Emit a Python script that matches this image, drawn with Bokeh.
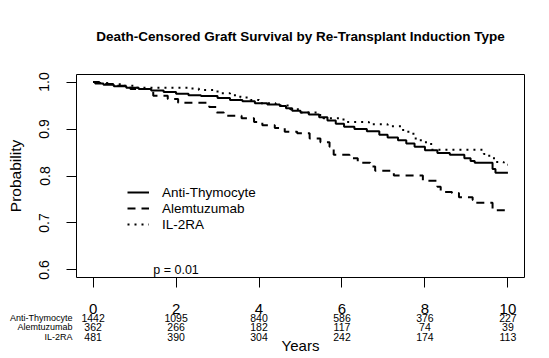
from bokeh.plotting import figure
from bokeh.models import Range1d, FixedTicker, Legend, LegendItem
from bokeh.layouts import column
from bokeh.embed import file_html
from bokeh.resources import INLINE
from bokeh.core.properties import value

# ---------------- data ----------------
title_text = "Death-Censored Graft Survival by Re-Transplant Induction Type"
groups = ["Anti-Thymocyte", "Alemtuzumab", "IL-2RA"]

atg_t = [0, 0.05, 0.25, 0.5, 0.8, 1.1, 1.4, 1.7, 2.0, 2.3, 2.6, 3.0, 3.3, 3.6, 3.9,
         4.2, 4.5, 4.65, 4.8, 5.0, 5.2, 5.45, 5.65, 5.85, 6.05, 6.3, 6.6, 6.9, 7.1,
         7.35, 7.55, 7.75, 8.0, 8.3, 8.6, 8.95, 9.1, 9.2, 9.63, 9.7]
atg_s = [1.0, 0.997, 0.994, 0.991, 0.988, 0.985, 0.982, 0.979, 0.975, 0.972, 0.970,
         0.966, 0.962, 0.959, 0.955, 0.952, 0.949, 0.944, 0.939, 0.935, 0.931, 0.925,
         0.918, 0.911, 0.905, 0.900, 0.895, 0.888, 0.882, 0.876, 0.869, 0.862, 0.855,
         0.849, 0.845, 0.838, 0.832, 0.828, 0.815, 0.807]

alem_t = [0, 0.15, 0.5, 0.9, 1.45, 1.8, 2.05, 2.8, 2.98, 3.15, 3.58, 3.88, 4.08, 4.38,
          4.62, 4.92, 5.22, 5.48, 5.7, 5.8, 6.18, 6.38, 6.68, 6.8, 7.25, 7.95, 8.3,
          8.38, 8.65, 8.82, 9.15, 9.2, 9.63]
alem_s = [1.0, 0.996, 0.992, 0.985, 0.971, 0.964, 0.956, 0.947, 0.935, 0.928, 0.923,
          0.915, 0.908, 0.902, 0.894, 0.891, 0.880, 0.872, 0.862, 0.845, 0.838, 0.828,
          0.820, 0.811, 0.801, 0.790, 0.777, 0.766, 0.764, 0.755, 0.749, 0.743, 0.727]

il2_t = [0, 0.1, 0.35, 0.7, 1.0, 2.3, 2.55, 3.0, 3.3, 3.55, 3.8, 4.0, 4.4, 4.75, 5.0,
         5.4, 5.55, 6.0, 6.1, 6.65, 7.1, 7.45, 7.6, 7.75, 7.9, 8.15, 9.42, 9.55, 9.7, 9.9]
il2_s = [1.0, 0.998, 0.995, 0.992, 0.988, 0.986, 0.983, 0.976, 0.972, 0.967, 0.962,
         0.955, 0.950, 0.942, 0.935, 0.930, 0.923, 0.920, 0.915, 0.910, 0.906, 0.898,
         0.890, 0.880, 0.872, 0.856, 0.847, 0.838, 0.830, 0.824]

followup_end = 10.0

tick_years = [0, 2, 4, 6, 8, 10]
y_ticks = [0.6, 0.7, 0.8, 0.9, 1.0]
y_tick_labels = ["0.6", "0.7", "0.8", "0.9", "1.0"]

risk_atg = [1442, 1095, 840, 586, 376, 227]
risk_alem = [362, 266, 182, 117, 74, 39]
risk_il2 = [481, 390, 304, 242, 174, 113]

p_value_text = "p = 0.01"
p_value_x = 2
p_value_y = 0.6
x_label = "Years"
x_label_pos = 5
y_label = "Probability"

# ---------------- layout / style ----------------
FONT = "Liberation Sans"
W = 541
H0 = 50          # title strip
H1 = 240         # survival plot
H2 = 66          # risk table
ML = 76
FRAME_W, FRAME_H = 448, 203
MR = W - ML - FRAME_W
MT = 24
MB = H1 - MT - FRAME_H
x0, x1 = -0.4, 10.4
y0, y1 = 0.584, 1.016

# ---------------- title strip ----------------
t = figure(width=W, height=H0, output_backend="svg", toolbar_location=None,
           x_range=Range1d(x0, x1), y_range=Range1d(H0, 0),
           x_axis_location=None, y_axis_location=None,
           min_border_left=ML, min_border_right=MR, min_border_top=0,
           min_border_bottom=0)
t.outline_line_color = None
t.grid.visible = False
t.background_fill_color = "white"
t.border_fill_color = "white"
t.text(x=[(x0 + x1) / 2], y=[36], text=[title_text], text_align="center",
       text_baseline="middle", text_font=value(FONT), text_font_size="13.5px",
       text_font_style="bold", text_color="black")

# ---------------- survival plot ----------------
p = figure(width=W, height=H1, output_backend="svg", toolbar_location=None,
           x_range=t.x_range, y_range=Range1d(y0, y1),
           min_border_left=ML, min_border_right=MR, min_border_top=MT,
           min_border_bottom=MB)
p.grid.visible = False
p.outline_line_color = "black"
p.outline_line_width = 1
p.outline_line_alpha = 1
p.background_fill_color = "white"
p.border_fill_color = "white"

# x axis: tick marks only (the year labels sit on top of the risk table)
p.xaxis.ticker = FixedTicker(ticks=tick_years)
p.xaxis.axis_line_color = None
p.xaxis.major_tick_out = 10
p.xaxis.major_tick_in = 0
p.xaxis.minor_tick_out = 0
p.xaxis.minor_tick_in = 0
p.xaxis.major_tick_line_color = "black"
p.xaxis.major_label_text_font_size = "1px"
p.xaxis.major_label_text_color = None
p.xaxis.major_label_standoff = 0

# y axis
p.yaxis.ticker = FixedTicker(ticks=y_ticks)
p.yaxis.major_label_overrides = {tk: l for tk, l in zip(y_ticks, y_tick_labels)}
p.yaxis.axis_line_color = None
p.yaxis.major_tick_out = 10
p.yaxis.major_tick_in = 0
p.yaxis.minor_tick_out = 0
p.yaxis.minor_tick_in = 0
p.yaxis.major_tick_line_color = "black"
p.yaxis.major_label_orientation = "vertical"
p.yaxis.major_label_text_font = FONT
p.yaxis.major_label_text_font_size = "14px"
p.yaxis.major_label_text_color = "black"
p.yaxis.major_label_standoff = 17
p.yaxis.axis_label = y_label
p.yaxis.axis_label_text_font = FONT
p.yaxis.axis_label_text_font_size = "15.5px"
p.yaxis.axis_label_text_font_style = "normal"
p.yaxis.axis_label_text_color = "black"
p.yaxis.axis_label_standoff = 13

r1 = p.step(atg_t + [followup_end], atg_s + [atg_s[-1]], mode="after",
            line_color="black", line_width=2)
r2 = p.step(alem_t + [followup_end], alem_s + [alem_s[-1]], mode="after",
            line_color="black", line_width=2, line_dash="8 6")
r3 = p.step(il2_t + [followup_end], il2_s + [il2_s[-1]], mode="after",
            line_color="black", line_width=2, line_dash="2 5")

legend = Legend(items=[LegendItem(label=groups[0], renderers=[r1]),
                       LegendItem(label=groups[1], renderers=[r2]),
                       LegendItem(label=groups[2], renderers=[r3])],
                location=(51, 45), padding=0, margin=0, spacing=0,
                glyph_width=22, glyph_height=16, label_height=16,
                label_standoff=13, border_line_color=None,
                background_fill_alpha=0, label_text_font=FONT,
                label_text_font_size="13.5px", label_text_color="black")
p.add_layout(legend)

p.text(x=[p_value_x], y=[p_value_y], text=[p_value_text], text_align="center",
       text_baseline="middle", text_font=value(FONT), text_font_size="12.5px",
       text_color="black")

# ---------------- risk table (shares the x range) ----------------
row_ids = [1, 2, 3]
years_row = 3.84
t_top = 23

q = figure(width=W, height=H2, output_backend="svg", toolbar_location=None,
           x_range=t.x_range, y_range=Range1d(5.0, 0.58),
           x_axis_location="above", y_axis_location="left",
           min_border_left=ML, min_border_right=MR, min_border_top=t_top,
           min_border_bottom=0)
q.outline_line_color = None
q.grid.visible = False
q.background_fill_color = "white"
q.border_fill_color = "white"

q.xaxis.ticker = FixedTicker(ticks=tick_years)
q.xaxis.axis_line_color = None
q.xaxis.major_tick_out = 0
q.xaxis.major_tick_in = 0
q.xaxis.minor_tick_out = 0
q.xaxis.minor_tick_in = 0
q.xaxis.major_label_text_font = FONT
q.xaxis.major_label_text_font_size = "15px"
q.xaxis.major_label_text_color = "black"
q.xaxis.major_label_standoff = 0

q.yaxis.ticker = FixedTicker(ticks=row_ids)
q.yaxis.major_label_overrides = {i: g for i, g in zip(row_ids, groups)}
q.yaxis.axis_line_color = None
q.yaxis.major_tick_out = 0
q.yaxis.major_tick_in = 0
q.yaxis.minor_tick_out = 0
q.yaxis.minor_tick_in = 0
q.yaxis.major_label_text_font = FONT
q.yaxis.major_label_text_font_size = "9px"
q.yaxis.major_label_text_color = "black"
q.yaxis.major_label_standoff = 4

for rid, counts in zip(row_ids, [risk_atg, risk_alem, risk_il2]):
    q.text(x=tick_years, y=[rid] * len(tick_years), text=[str(c) for c in counts],
           text_align="center", text_baseline="middle", text_font=value(FONT),
           text_font_size="10.5px", text_color="black")

q.text(x=[x_label_pos], y=[years_row], text=[x_label], text_align="center",
       text_baseline="middle", text_font=value(FONT), text_font_size="15px",
       text_color="black")

layout = column(t, p, q, spacing=0)
open("out.html", "w").write(file_html(layout, INLINE))
